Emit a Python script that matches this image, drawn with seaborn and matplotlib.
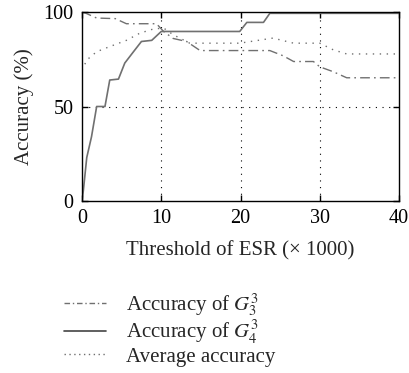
import numpy as np
import pandas as pd
import seaborn as sns
import matplotlib
matplotlib.use("Agg")
import matplotlib.pyplot as plt
from matplotlib.lines import Line2D

sns.set_theme(style="white")
plt.rcParams['font.family'] = ['Liberation Serif', 'DejaVu Serif']
plt.rcParams['mathtext.fontset'] = 'stix'

# Accuracy of G_3^3 (dash-dot)
g3_x = [0.0, 0.4, 1.85, 4.2, 5.6, 9.4, 10.3, 11.5, 13.2, 14.9, 23.7, 25.4, 26.7, 29.2, 30.0, 31.7, 33.4, 40.0]
g3_y = [100, 99.5, 96.8, 96.5, 93.8, 93.8, 89.7, 86.0, 84.4, 79.6, 79.6, 76.8, 73.8, 73.8, 71.0, 68.4, 65.2, 65.2]

# Accuracy of G_4^3 (solid)
g4_x = [0.0, 0.17, 0.6, 1.2, 1.85, 2.5, 2.9, 3.5, 4.6, 5.4, 6.5, 7.5, 8.8, 10.0, 19.9, 20.8, 22.9, 23.7, 40.0]
g4_y = [0, 5.5, 23, 34, 50, 50, 50, 64, 64.5, 73, 79, 84.4, 85, 89.7, 89.7, 94.5, 94.5, 99.3, 99.3]

# Average accuracy (dotted)
avg_x = [0.0, 0.6, 1.85, 3.5, 5.6, 7.3, 9.0, 10.3, 11.5, 13.6, 19.9, 24.1, 26.7, 30.0, 31.7, 33.4, 40.0]
avg_y = [69, 74.6, 79, 81.7, 85, 88.8, 91, 91.5, 88, 83.5, 83.5, 86.2, 83.5, 83.5, 80, 77.8, 77.8]

labels = [r"Accuracy of $G_3^3$", r"Accuracy of $G_4^3$", "Average accuracy"]

W, H = 409, 373
fig = plt.figure(figsize=(W / 100, H / 100), dpi=100)
ax = fig.add_axes([82 / W, 1 - 201 / H, (399 - 82) / W, (201 - 12) / H])

gray = "#707070"
sns.lineplot(x=g3_x, y=g3_y, ax=ax, color=gray, lw=1.0, estimator=None)
ax.lines[-1].set_dashes([7, 3, 1.2, 3])
sns.lineplot(x=g4_x, y=g4_y, ax=ax, color=gray, lw=1.2, estimator=None)
sns.lineplot(x=avg_x, y=avg_y, ax=ax, color=gray, lw=1.0, estimator=None)
ax.lines[-1].set_dashes([1, 4])

ax.set_xlim(0, 40)
ax.set_ylim(0, 100)
ax.set_xticks([0, 10, 20, 30, 40])
ax.set_yticks([0, 50, 100])
for v in [10, 20, 30]:
    ax.axvline(v, color="black", lw=0.8, ls=(0, (1, 5)), zorder=0)
ax.axhline(50, color="black", lw=0.8, ls=(0, (1, 5)), zorder=0)

for s in ax.spines.values():
    s.set_color("black")
    s.set_linewidth(1.0)
ax.tick_params(direction="in", length=4, width=1, colors="black", labelsize=14.5,
               top=True, right=True, bottom=True, left=True, pad=6)
ax.set_xlabel("Threshold of ESR (× 1000)", fontsize=15, labelpad=9)
ax.set_ylabel("Accuracy (%)", fontsize=15, labelpad=7)

handles = [
    Line2D([], [], color=gray, lw=1.0, dashes=[4, 2, 1, 2]),
    Line2D([], [], color="#444444", lw=1.2),
    Line2D([], [], color=gray, lw=1.0, dashes=[1, 2.5]),
]
fig.legend(handles, labels, loc="upper left", bbox_to_anchor=(45 / W, 1 - 272 / H),
           frameon=False, fontsize=15, handlelength=2.05, handletextpad=0.95,
           labelspacing=0.05, borderpad=0.4)

fig.savefig("out.png", dpi=100)
